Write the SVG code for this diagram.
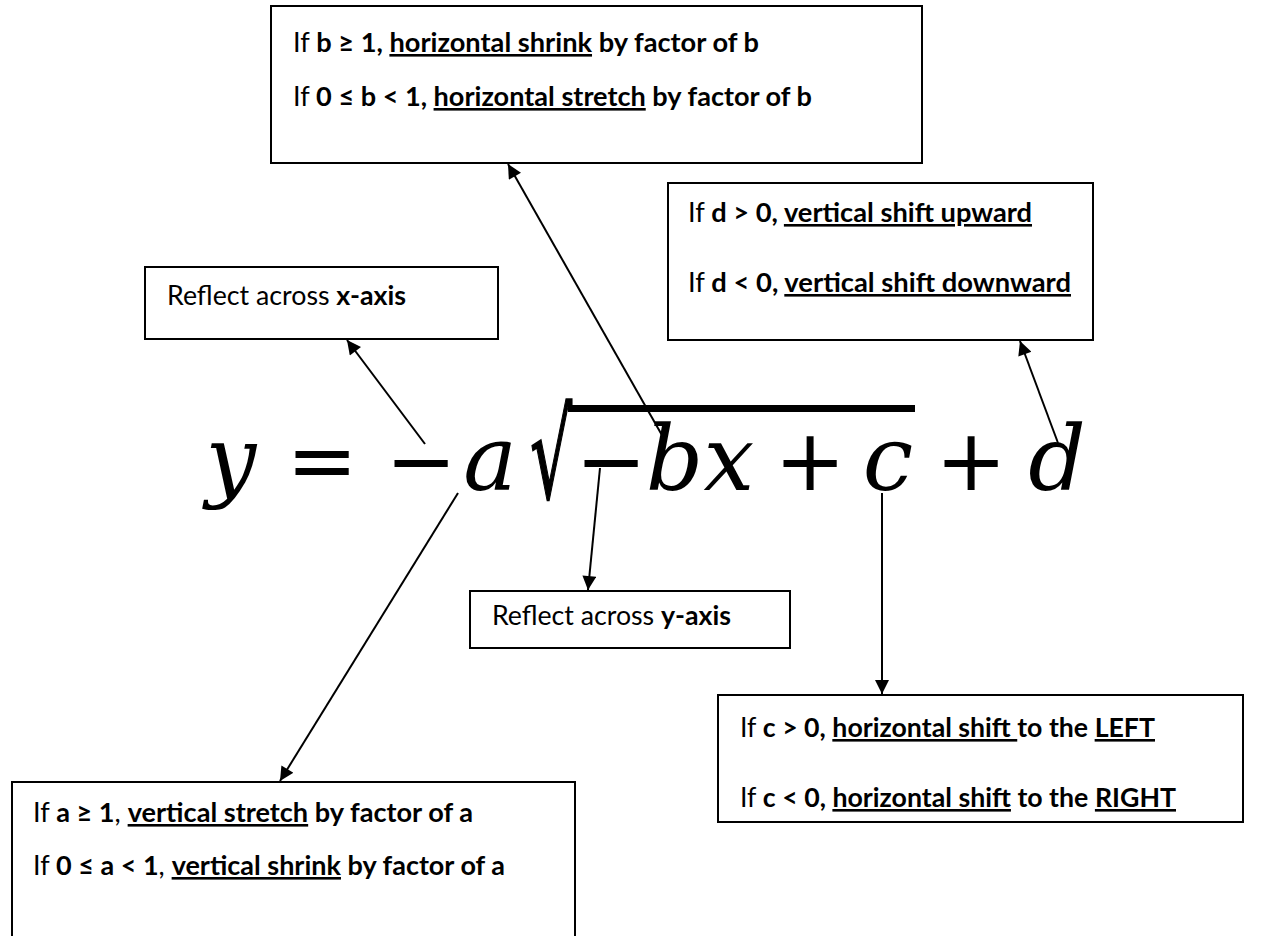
<svg xmlns="http://www.w3.org/2000/svg" width="1265" height="936" viewBox="0 0 1265 936">
<defs>
<style>
.box{fill:#fff;stroke:#000;stroke-width:2}
.t{font-family:Lato,"Liberation Sans",sans-serif;font-size:26px;fill:#000}
.b{font-weight:bold}
.u{text-decoration:underline}
.conn{stroke:#000;stroke-width:2;fill:none;marker-end:url(#ah)}
.eq{font-family:"DejaVu Serif",serif;font-size:90px;fill:#000;text-anchor:middle}
.ml{font-family:"DejaVu Serif",serif;font-style:italic;font-size:90px}
.mo{font-family:"DejaVu Sans",sans-serif;font-style:normal;font-size:85px}
</style>
<marker id="ah" viewBox="0 0 10 10" refX="10" refY="5" markerUnits="userSpaceOnUse" markerWidth="16" markerHeight="14" orient="auto">
<path d="M0,0 L10,5 L0,10 z" fill="#000"/>
</marker>
</defs>
<rect width="1265" height="936" fill="#fff"/>

<g id="box-b">
<rect class="box" x="271" y="6" width="651" height="157"/>
<text class="t" x="293" y="52" textLength="466" lengthAdjust="spacingAndGlyphs">If <tspan class="b">b ≥ 1, </tspan><tspan class="b u">horizontal shrink</tspan><tspan class="b"> by factor of b</tspan></text>
<text class="t" x="293" y="106" textLength="519" lengthAdjust="spacingAndGlyphs">If <tspan class="b">0 ≤ b &lt; 1, </tspan><tspan class="b u">horizontal stretch</tspan><tspan class="b"> by factor of b</tspan></text>
</g>

<g id="box-d">
<rect class="box" x="668" y="183" width="425" height="157"/>
<text class="t" x="688" y="222" textLength="344" lengthAdjust="spacingAndGlyphs">If <tspan class="b">d &gt; 0, </tspan><tspan class="b u">vertical shift upward</tspan></text>
<text class="t" x="688" y="292" textLength="383" lengthAdjust="spacingAndGlyphs">If <tspan class="b">d &lt; 0, </tspan><tspan class="b u">vertical shift downward</tspan></text>
</g>

<g id="box-x">
<rect class="box" x="145" y="267" width="353" height="72"/>
<text class="t" x="167" y="305" textLength="239" lengthAdjust="spacingAndGlyphs">Reflect across <tspan class="b">x-axis</tspan></text>
</g>

<g id="box-y">
<rect class="box" x="470" y="591" width="320" height="57"/>
<text class="t" x="492" y="625" textLength="239" lengthAdjust="spacingAndGlyphs">Reflect across <tspan class="b">y-axis</tspan></text>
</g>

<g id="box-a">
<rect class="box" x="12" y="782" width="563" height="160"/>
<text class="t" x="33" y="822" textLength="440" lengthAdjust="spacingAndGlyphs">If <tspan class="b">a ≥ 1</tspan>, <tspan class="b u">vertical stretch</tspan><tspan class="b"> by factor of a</tspan></text>
<text class="t" x="33" y="875" textLength="472" lengthAdjust="spacingAndGlyphs">If <tspan class="b">0 ≤ a &lt; 1</tspan>, <tspan class="b u">vertical shrink</tspan><tspan class="b"> by factor of a</tspan></text>
</g>

<g id="box-c">
<rect class="box" x="718" y="695" width="525" height="127"/>
<text class="t" x="740" y="737" textLength="415" lengthAdjust="spacingAndGlyphs">If <tspan class="b">c &gt; 0, </tspan><tspan class="b u">horizontal shift </tspan><tspan class="b">to the </tspan><tspan class="b u">LEFT</tspan></text>
<text class="t" x="740" y="807" textLength="436" lengthAdjust="spacingAndGlyphs">If <tspan class="b">c &lt; 0, </tspan><tspan class="b u">horizontal shift</tspan><tspan class="b"> to the </tspan><tspan class="b u">RIGHT</tspan></text>
</g>

<g id="equation">
<text class="eq" y="490"><tspan class="ml" x="231">y</tspan><tspan class="mo" x="322">=</tspan><tspan class="mo" x="421">−</tspan><tspan class="ml" x="490">a</tspan></text>
<text transform="translate(530,498) scale(0.66,1.22)" x="0" y="0" font-family="DejaVu Sans,sans-serif" font-size="100" stroke="#000" stroke-width="1.5">√</text>
<rect x="568" y="405" width="347" height="7" fill="#000"/>
<text class="eq" y="490"><tspan class="mo" x="611">−</tspan><tspan class="ml" x="700">bx</tspan><tspan class="mo" x="810">+</tspan><tspan class="ml" x="888">c</tspan><tspan class="mo" x="971">+</tspan><tspan class="ml" x="1057">d</tspan></text>
</g>

<g id="connectors">
<line class="conn" x1="663" y1="437" x2="508" y2="164"/>
<line class="conn" x1="425" y1="444" x2="347" y2="340"/>
<line class="conn" x1="1058" y1="443" x2="1020" y2="341"/>
<line class="conn" x1="600" y1="468" x2="588" y2="590"/>
<line class="conn" x1="882" y1="493" x2="882" y2="694"/>
<line class="conn" x1="458" y1="493" x2="280" y2="781"/>
</g>
</svg>
